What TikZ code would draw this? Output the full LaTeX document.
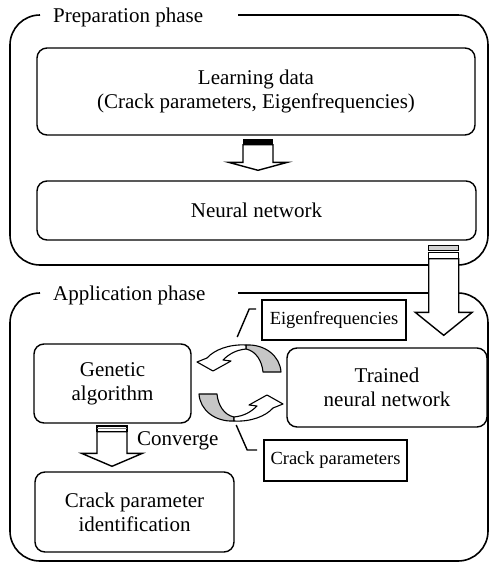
\documentclass[tikz,border=0pt]{standalone}
\usepackage{fontspec}
\setmainfont{Liberation Serif}
\usetikzlibrary{calc}

% vertical block arrow: #1 top centre, #2 tip, #3 half shaft width,
% #4 half head width, #5 head length
\newcommand\blockarr[5]{%
  \draw[fatarrow] ($(#1)+(-#3,0)$) -- ($(#2)+(-#3,-#5)$) -- ($(#2)+(-#4,-#5)$)
    -- (#2) -- ($(#2)+(#4,-#5)$) -- ($(#2)+(#3,-#5)$) -- ($(#1)+(#3,0)$) -- cycle;}

\tikzset{
  phase/.style={line width=1.6pt, rounded corners=30pt},
  stepbox/.style={draw, line width=1.4pt, rounded corners=10pt, inner sep=0pt,
    align=center, font=\fontsize{21}{24}\selectfont},
  tagbox/.style={draw, line width=1.6pt, inner sep=0pt, align=center,
    font=\fontsize{18.5}{22}\selectfont},
  title/.style={anchor=base west, inner sep=0pt, font=\fontsize{21}{24}\selectfont},
  fatarrow/.style={draw, fill=white, line width=1.4pt, line join=miter},
  callout/.style={line width=1.4pt},
  ribbon/.style={draw, line width=1.1pt, line join=round},
}

\begin{document}
\begin{tikzpicture}[x=1pt, y=-1pt]
\useasboundingbox (0,0) rectangle (490,565);

% phase frames with a gap for the title
\draw[phase] (238,15) -- (488,15) -- (488,265) -- (10,265) -- (10,15) -- (40,15);
\node[title] (prep) at (53,22) {Preparation phase};
\draw[phase] (238,293) -- (488,293) -- (488,561) -- (10,561) -- (10,293) -- (40,293);
\node[title] (appl) at (53,300.5) {Application phase};

% preparation phase
\node[stepbox, minimum width=438pt, minimum height=87pt] (learn) at (256,91.5)
  {Learning data\\(Crack parameters, Eigenfrequencies)};
\node[stepbox, minimum width=439pt, minimum height=59pt] (nn) at (256.5,210.5)
  {Neural network};

% application phase
\node[stepbox, minimum width=157pt, minimum height=79pt] (ga) at (112.5,383.5)
  {Genetic\\algorithm};
\node[stepbox, minimum width=200pt, minimum height=79pt] (tnn) at (387,387.5)
  {Trained\\neural network};
\node[stepbox, minimum width=199pt, minimum height=80pt] (cpi) at (134.5,512)
  {Crack parameter\\identification};
\node[tagbox, minimum width=144pt, minimum height=40pt] (eig) at (334,320)
  {Eigenfrequencies};
\node[tagbox, minimum width=143pt, minimum height=41pt] (cp) at (335.5,460.5)
  {Crack parameters};

% learning data -> neural network
\coordinate (a1s) at ($(learn.south)+(2,9)$);
\coordinate (a1e) at ($(nn.north)+(1.5,-10)$);
\blockarr{a1s}{a1e}{15}{29.5}{8}
\fill ($(a1s)+(-15,-6)$) rectangle ($(a1s)+(15,0)$);

% neural network -> trained neural network
\coordinate (a2s) at ($(nn.south east)+(-33,18)$);
\coordinate (a2e) at ($(tnn.north east)+(-44,-12)$);
\blockarr{a2s}{a2e}{15}{28.5}{23}
\draw[line width=1.1pt, fill=gray!35] ($(a2s)+(-15,-13)$) rectangle ($(a2s)+(15,-8)$);
\draw[line width=1.1pt, fill=white] ($(a2s)+(-15,-6)$) rectangle ($(a2s)+(15,0)$);

% genetic algorithm -> crack parameter identification
\coordinate (a3s) at ($(ga.south)+(-0.5,8)$);
\coordinate (a3e) at ($(a3s |- cpi.north)+(0,-5)$);
\blockarr{a3s}{a3e}{15}{30.5}{13}
\draw[line width=1.1pt, fill=white] ($(a3s)+(-15,-6)$) rectangle ($(a3s)+(15,0)$);
\draw[line width=1.8pt] ($(a3s)+(-15,-6)$) -- ($(a3s)+(15,-6)$);
\draw[gray, line width=0.9pt] ($(a3s)+(-15,-3)$) -- ($(a3s)+(15,-3)$);
\node[anchor=west, inner sep=0pt, font=\fontsize{21}{24}\selectfont] (conv)
  at ($(a3s)+(25,9)$) {Converge};

% exchange loop between the genetic algorithm and the trained network
\begin{scope}
  \draw[ribbon, fill=gray!45] (246,345) .. controls (265,344) and (280,356) .. (281,372)
    -- (263,372) .. controls (262,361) and (256,351) .. (246,349) -- cycle;
  \draw[ribbon, fill=white] (246,345) .. controls (229,344) and (214,350) .. (207,358)
    -- (197,362) -- (213,371) -- (231,361) -- (223,360)
    .. controls (229,354) and (236,350) .. (246,349) -- cycle;
\end{scope}
\begin{scope}[rotate around={180:(240,383)}]
  \draw[ribbon, fill=gray!45] (246,345) .. controls (265,344) and (280,356) .. (281,372)
    -- (263,372) .. controls (262,361) and (256,351) .. (246,349) -- cycle;
  \draw[ribbon, fill=white] (246,345) .. controls (229,344) and (214,350) .. (207,358)
    -- (197,362) -- (213,371) -- (231,361) -- (223,360)
    .. controls (229,354) and (236,350) .. (246,349) -- cycle;
\end{scope}

% callout leaders for the two tags
\coordinate (eigfoot) at ($(eig.west)+(-24,17)$);
\draw[callout] (eigfoot) -- ($(eig.west)+(-12,-11)$) -- ($(eig.west)+(-5,-11)$);
\coordinate (cpfoot) at ($(cp.west)+(-27,-35.5)$);
\draw[callout] (cpfoot) -- ($(cp.west)+(-16,-10.5)$) -- ($(cp.west)+(-6,-10.5)$);
\end{tikzpicture}
\end{document}
